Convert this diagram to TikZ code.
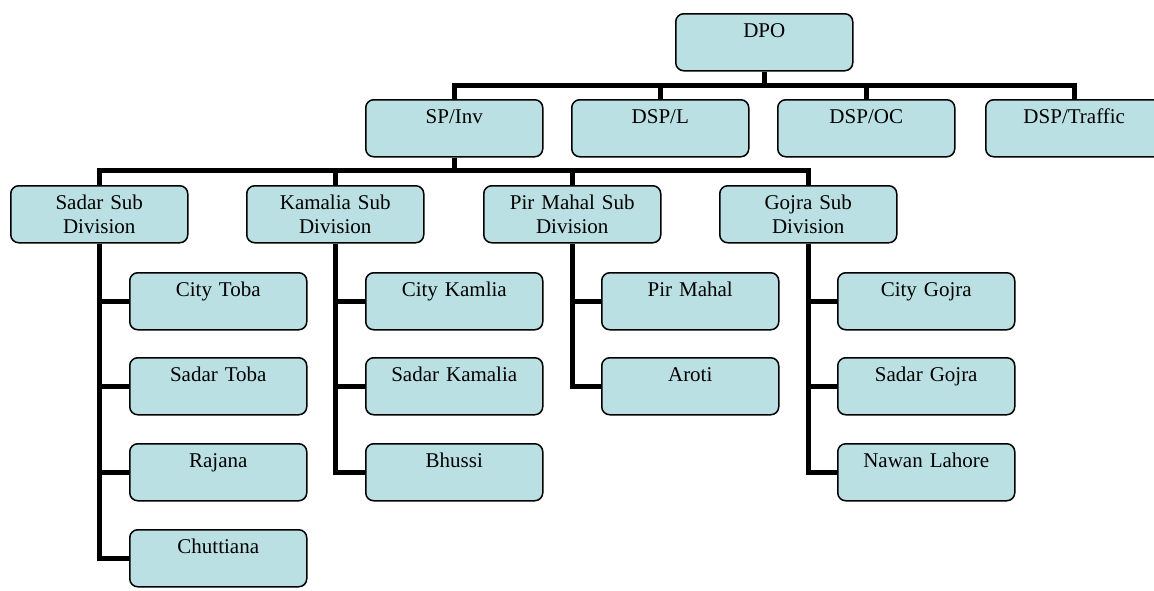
\documentclass[tikz,border=0pt]{standalone}
\usepackage{fontspec}
\setmainfont{Liberation Serif}
\usepackage{tikz}

\definecolor{unitfill}{HTML}{BBE0E3}
\tikzset{
  unit/.style={draw, fill=unitfill, line width=1.5pt, rounded corners=8pt,
    anchor=north west, inner sep=0pt, minimum width=177pt, minimum height=57pt,
    text width=177pt, align=center, text height=24pt, text depth=33pt,
    font=\fontsize{21}{24}\selectfont},
  link/.style={line width=5pt}
}

\begin{document}
\begin{tikzpicture}[x=1pt,y=-1pt]
\useasboundingbox (0,0) rectangle (1154,590);

% top
\node[unit] (dpo) at (675,13) {DPO};
\node[unit] (spinv) at (365,99) {SP/Inv};
\node[unit] (dspl) at (571,99) {DSP/L};
\node[unit] (dspoc) at (777,99) {DSP/OC};
\node[unit] (dsptraffic) at (985,99) {DSP/Traffic};

% sub divisions
\node[unit] (sadar) at (10,185) {Sadar Sub\\Division};
\node[unit] (kamalia) at (246,185) {Kamalia Sub\\Division};
\node[unit] (pirmahal) at (483,185) {Pir Mahal Sub\\Division};
\node[unit] (gojra) at (719,185) {Gojra Sub\\Division};

% police stations
\node[unit] (citytoba) at (129,272) {City Toba};
\node[unit] (sadartoba) at (129,357) {Sadar Toba};
\node[unit] (rajana) at (129,443) {Rajana};
\node[unit] (chuttiana) at (129,529) {Chuttiana};

\node[unit] (citykamlia) at (365,272) {City Kamlia};
\node[unit] (sadarkamalia) at (365,357) {Sadar Kamalia};
\node[unit] (bhussi) at (365,443) {Bhussi};

\node[unit] (pmahal) at (601,272) {Pir Mahal};
\node[unit] (aroti) at (601,357) {Aroti};

\node[unit] (citygojra) at (837,272) {City Gojra};
\node[unit] (sadargojra) at (837,357) {Sadar Gojra};
\node[unit] (nawanlahore) at (837,443) {Nawan Lahore};

% bars
\coordinate (topbar) at (0,85);
\coordinate (midbar) at (0,170);

\draw[link] (dpo.south) -- (dpo.south |- topbar);
\foreach \u in {spinv,dspl,dspoc,dsptraffic}
  \draw[link] (\u.north) |- (dpo.south |- topbar);

\draw[link] (spinv.south) -- (spinv.south |- midbar);
\foreach \u in {sadar,kamalia,pirmahal,gojra}
  \draw[link] (\u.north) |- (spinv.south |- midbar);

\foreach \s in {citytoba,sadartoba,rajana,chuttiana}
  \draw[link] (sadar.south) |- (\s.west);
\foreach \s in {citykamlia,sadarkamalia,bhussi}
  \draw[link] (kamalia.south) |- (\s.west);
\foreach \s in {pmahal,aroti}
  \draw[link] (pirmahal.south) |- (\s.west);
\foreach \s in {citygojra,sadargojra,nawanlahore}
  \draw[link] (gojra.south) |- (\s.west);
\end{tikzpicture}
\end{document}
